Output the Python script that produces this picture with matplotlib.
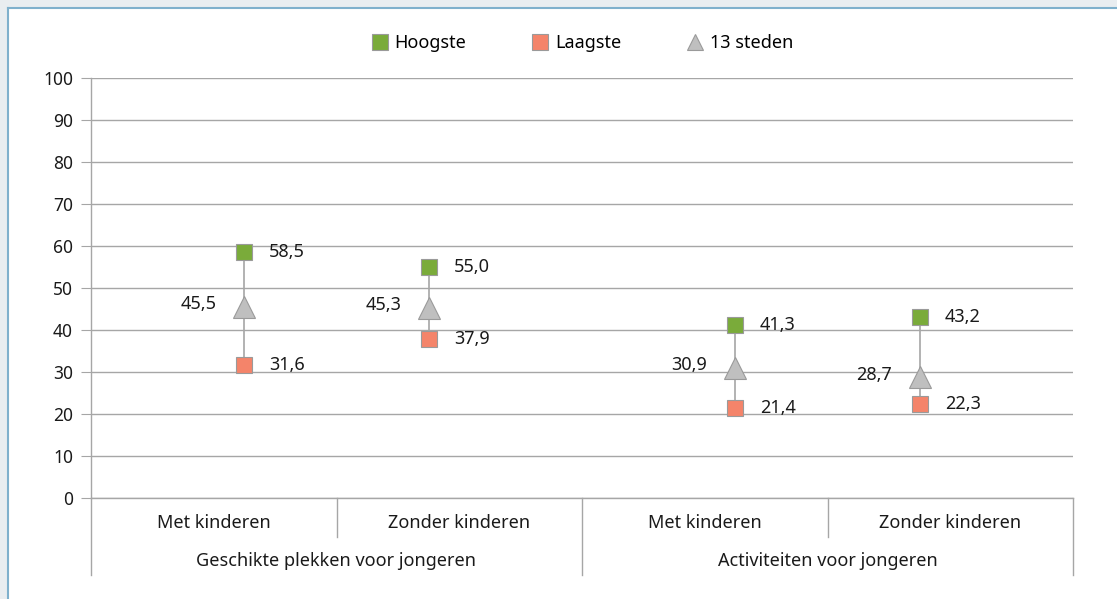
import matplotlib
matplotlib.use("Agg")
import matplotlib.pyplot as plt
import numpy as np
from matplotlib.lines import Line2D
from matplotlib.patches import Rectangle

plt.rcParams["font.family"] = ["Noto Sans", "DejaVu Sans"]

subgroups = ["Met kinderen", "Zonder kinderen", "Met kinderen", "Zonder kinderen"]
groups = ["Geschikte plekken voor jongeren", "Activiteiten voor jongeren"]
hoogste = [58.5, 55.0, 41.3, 43.2]
laagste = [31.6, 37.9, 21.4, 22.3]
steden = [45.5, 45.3, 30.9, 28.7]

GREEN = "#7aab3a"
SALMON = "#f4846a"
GREY = "#bfbfbf"
EDGE = "#9a9a9a"
LINE = "#a6a6a6"
TXT = "#1a1a1a"
FS = 13


def fmt(v):
    return f"{v:.1f}".replace(".", ",")


fig = plt.figure(figsize=(11.17, 5.99), dpi=100)
# page frame: light band + thin blue rule on top and left only
fig.patches.append(Rectangle((0, 0), 1, 1, transform=fig.transFigure,
                             facecolor="#e9edf0", edgecolor="none", zorder=-3))
fig.patches.append(Rectangle((8 / 1117, 0), 1, 1 - 8 / 599, transform=fig.transFigure,
                             facecolor="white", edgecolor="none", zorder=-2))
fig.add_artist(Line2D([8 / 1117, 1], [1 - 8 / 599, 1 - 8 / 599],
                      transform=fig.transFigure, color="#7fb0cc", lw=1.5))
fig.add_artist(Line2D([8 / 1117, 8 / 1117], [0, 1 - 8 / 599],
                      transform=fig.transFigure, color="#7fb0cc", lw=1.5))

ax = fig.add_axes([91 / 1117, 101 / 599, 982 / 1117, 420 / 599])
ax.set_xlim(0, 4)
ax.set_ylim(0, 100)
ax.set_yticks(np.arange(0, 101, 10))
ax.tick_params(axis="y", length=7, color=LINE, labelsize=12.5, labelcolor=TXT, pad=6)
ax.set_xticks([])
ax.grid(axis="y", color=LINE, lw=1)
ax.set_axisbelow(True)
for s in ["top", "right"]:
    ax.spines[s].set_visible(False)
for s in ["left", "bottom"]:
    ax.spines[s].set_color(LINE)
    ax.spines[s].set_linewidth(1)

# marker positions: shifted toward the centre of each group
xpos = np.arange(len(subgroups)) + 0.5 + np.array([0.123, -0.123, 0.123, -0.123])

for x, hi, lo in zip(xpos, hoogste, laagste):
    ax.plot([x, x], [lo, hi], color=LINE, lw=1.2, zorder=2)
ax.plot(xpos, steden, ls="none", marker="^", ms=16, mfc=GREY, mec=EDGE, mew=0.8, zorder=3)
ax.plot(xpos, hoogste, ls="none", marker="s", ms=12, mfc=GREEN, mec=EDGE, mew=0.8, zorder=4)
ax.plot(xpos, laagste, ls="none", marker="s", ms=12, mfc=SALMON, mec=EDGE, mew=0.8, zorder=4)

for x, hi, lo, md in zip(xpos, hoogste, laagste, steden):
    ax.annotate(fmt(hi), (x, hi), xytext=(18, 0), textcoords="offset points",
                ha="left", va="center", fontsize=FS, color=TXT)
    ax.annotate(fmt(lo), (x, lo), xytext=(18, 0), textcoords="offset points",
                ha="left", va="center", fontsize=FS, color=TXT)
    ax.annotate(fmt(md), (x, md), xytext=(-20, 2), textcoords="offset points",
                ha="right", va="center", fontsize=FS, color=TXT)

# two-level category axis
trans = ax.get_xaxis_transform()
for i, lab in enumerate(subgroups):
    ax.text(i + 0.5, -0.06, lab, transform=trans, ha="center", va="center",
            fontsize=FS, color=TXT)
for j, lab in enumerate(groups):
    ax.text(2 * j + 1, -0.15, lab, transform=trans, ha="center", va="center",
            fontsize=FS, color=TXT)
for xs in range(len(subgroups) + 1):
    y_end = -0.183 if xs % 2 == 0 else -0.093
    ax.plot([xs, xs], [0, y_end], transform=trans, color=LINE, lw=1, clip_on=False)

handles = [
    Line2D([], [], ls="none", marker="s", ms=11, mfc=GREEN, mec=EDGE, mew=0.8),
    Line2D([], [], ls="none", marker="s", ms=11, mfc=SALMON, mec=EDGE, mew=0.8),
    Line2D([], [], ls="none", marker="^", ms=12, mfc=GREY, mec=EDGE, mew=0.8),
]
fig.legend(handles, ["Hoogste", "Laagste", "13 steden"], loc="center",
           bbox_to_anchor=(0.521, 1 - 43 / 599), ncol=3, frameon=False,
           fontsize=FS, handlelength=1.0, handletextpad=0.3, columnspacing=3.6)

fig.savefig("out.png", dpi=100)
